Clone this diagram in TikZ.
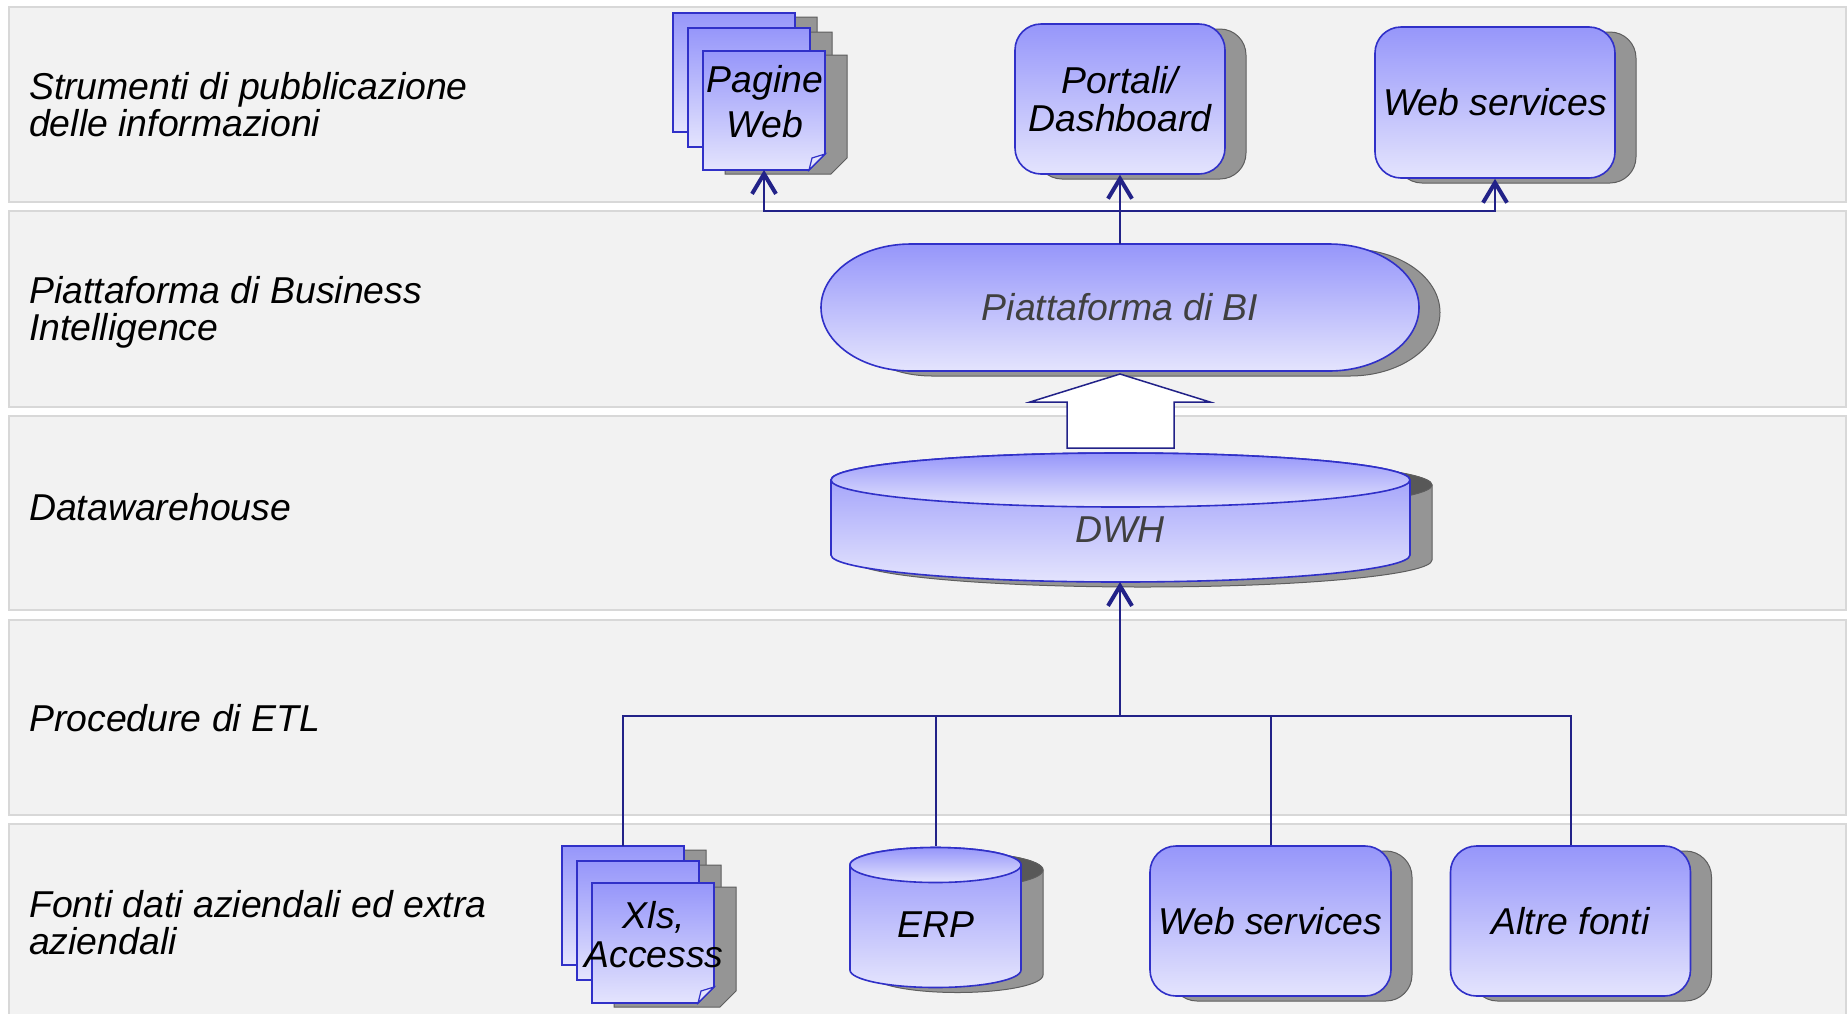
\documentclass[tikz,border=0pt]{standalone}
\usepackage{fontspec}
\setmainfont{Liberation Sans}
\usetikzlibrary{arrows.meta,shadows,calc}

\definecolor{bandfill}{HTML}{F2F2F2}
\definecolor{bandedge}{HTML}{D8D8D8}
\definecolor{boxtop}{RGB}{150,150,250}
\definecolor{boxbot}{RGB}{228,228,253}
\definecolor{boxedge}{RGB}{48,48,200}
\definecolor{wirecol}{RGB}{34,34,136}
\definecolor{shadowfill}{HTML}{959595}
\definecolor{shadowedge}{HTML}{5E5E5E}
\definecolor{shadowdark}{HTML}{585858}
\definecolor{darktext}{HTML}{404040}

\tikzset{
  band/.style={fill=bandfill, draw=bandedge, line width=2pt},
  lab/.style={anchor=west, align=left, inner sep=0pt, font=\fontsize{37.4}{37}\selectfont\itshape},
  txt/.style={align=center, inner sep=0pt, font=\fontsize{37.4}{38}\selectfont\itshape},
  blueshade/.style={top color=boxtop, bottom color=boxbot, draw=boxedge, line width=1.6pt},
  rbox/.style={blueshade, txt, rounded corners=26pt,
    general shadow={shadow xshift=21pt, shadow yshift=-5pt, fill=shadowfill, draw=shadowedge, line width=1pt}},
  shadowshape/.style={fill=shadowfill, draw=shadowedge, line width=1pt},
  wire/.style={draw=wirecol, line width=2pt},
  tip/.style={-{Straight Barb[length=20pt,width=24pt,line width=4pt]}},
  blockarrow/.style={fill=white, draw=wirecol, line width=1.5pt},
  frame/.style={inner sep=0pt, outer sep=0pt},
}

\newcommand\docsheet[4]{%
  \path[shadowshape] (#1+22,#2+4) -- (#3+22,#2+4) -- (#3+22,#4+4-16) -- (#3+22-16,#4+4) -- (#1+22,#4+4) -- cycle;
  \path[blueshade] (#1,#2) -- (#3,#2) -- (#3,#4-16) -- (#3-16,#4) -- (#1,#4) -- cycle;
  \path[fill=boxbot, draw=boxedge, line width=1.2pt] (#3,#4-16) -- (#3-13,#4-12) -- (#3-16,#4) -- cycle;
}

\begin{document}
\begin{tikzpicture}[x=1pt,y=-1pt]
\useasboundingbox (0,0) rectangle (1848,1013);
\fill[white] (0,0) rectangle (1848,1013);

% bands
\path[band] (9,7) rectangle (1846,202);
\path[band] (9,211) rectangle (1846,407);
\path[band] (9,416) rectangle (1846,610);
\path[band] (9,620) rectangle (1846,815);
\path[band] (9,824) rectangle (1846,1030);

% band labels
\node[lab] (lab1) at (29,105) {Strumenti di pubblicazione\\delle informazioni};
\node[lab] (lab2) at (29,312) {Piattaforma di Business\\Intelligence};
\node[lab] (lab3) at (29,507) {Datawarehouse};
\node[lab] (lab4) at (29,718) {Procedure di ETL};
\node[lab] (lab5) at (29,923) {Fonti dati aziendali ed extra\\aziendali};

% ---- top layer: Pagine Web stack
\docsheet{673}{13}{795}{132}
\docsheet{688}{28}{810}{147}
\docsheet{703}{51}{825}{170}
\node[frame, minimum width=122pt, minimum height=119pt] (pagback) at (734,72.5) {};
\node[frame, minimum width=122pt, minimum height=119pt] (pagfront) at (764,110.5) {};
\node[txt, font=\fontsize{37.4}{45}\selectfont\itshape] (pagtext) at (765,101.5) {Pagine\\Web};

\node[rbox, minimum width=210pt, minimum height=150pt] (portali) at (1120,99) {Portali/\\Dashboard};
\node[rbox, minimum width=240pt, minimum height=151pt] (ws1) at (1495,102.5) {Web services};

% ---- BI platform (stadium)
\path[shadowshape, shift={(21,5)}] (911,244) -- (1329,244)
  arc[start angle=-90, end angle=90, x radius=90, y radius=63.5] -- (911,371)
  arc[start angle=90, end angle=270, x radius=90, y radius=63.5] -- cycle;
\path[blueshade] (911,244) -- (1329,244)
  arc[start angle=-90, end angle=90, x radius=90, y radius=63.5] -- (911,371)
  arc[start angle=90, end angle=270, x radius=90, y radius=63.5] -- cycle;
\node[txt, frame, minimum width=598pt, minimum height=127pt, text=darktext] (bi) at (1120,307.5) {Piattaforma di BI};

% ---- DWH cylinder
\begin{scope}[shift={(22,5)}]
  \path[shadowshape] (831,480) -- (831,555) arc[start angle=180, end angle=0, x radius=289.5, y radius=27]
    -- (1410,480) arc[start angle=0, end angle=-180, x radius=289.5, y radius=27] -- cycle;
  \path[fill=shadowdark, draw=shadowedge, line width=1pt] (1120.5,480) ellipse[x radius=289.5, y radius=27];
\end{scope}
\path[blueshade] (831,480) -- (831,555) arc[start angle=180, end angle=0, x radius=289.5, y radius=27]
  -- (1410,480) arc[start angle=0, end angle=-180, x radius=289.5, y radius=27] -- cycle;
\path[blueshade] (1120.5,480) ellipse[x radius=289.5, y radius=27];
\node[txt, frame, minimum width=579pt, minimum height=130pt, text height=50pt, text depth=0pt, text=darktext] (dwh) at (1120,517) {DWH};

% block arrow DWH -> BI
\draw[blockarrow] ($(bi.south)+(0,3)$) -- ++(90,28) -- ++(-36,0) -- ++(0,46) -- ++(-107,0) -- ++(0,-46) -- ++(-37,0) -- cycle;

% ---- sources: Xls stack
\docsheet{562}{846}{684}{965}
\docsheet{577}{861}{699}{980}
\docsheet{592}{883}{714}{1003}
\node[frame, minimum width=122pt, minimum height=119pt] (xlsback) at (623,905.5) {};
\node[txt, font=\fontsize{37.4}{39}\selectfont\itshape] (xlstext) at (654,934.4) {Xls,\\Accesss};

% ERP cylinder
\begin{scope}[shift={(22,5)}]
  \path[shadowshape] (850,865) -- (850,970) arc[start angle=180, end angle=0, x radius=85.5, y radius=17.5]
    -- (1021,865) arc[start angle=0, end angle=-180, x radius=85.5, y radius=17.5] -- cycle;
  \path[fill=shadowdark, draw=shadowedge, line width=1pt] (935.5,865) ellipse[x radius=85.5, y radius=17.5];
\end{scope}
\path[blueshade] (850,865) -- (850,970) arc[start angle=180, end angle=0, x radius=85.5, y radius=17.5]
  -- (1021,865) arc[start angle=0, end angle=-180, x radius=85.5, y radius=17.5] -- cycle;
\path[blueshade] (935.5,865) ellipse[x radius=85.5, y radius=17.5];
\node[txt, frame, minimum width=171pt, minimum height=141pt, text height=41pt, text depth=0pt] (erp) at (935.5,916.5) {ERP};

\node[rbox, minimum width=241pt, minimum height=150pt] (ws2) at (1270.5,921) {Web services};
\node[rbox, minimum width=240pt, minimum height=150pt] (altre) at (1570.5,921) {Altre fonti};

% ---- connectors
\coordinate (topj) at (1120,211);
\draw[wire] (bi.north) -- (topj);
\draw[wire,tip] (topj) -- (portali.south);
\draw[wire,tip] (topj) -| (pagfront.south);
\draw[wire,tip] (topj) -| (ws1.south);

\coordinate (etlj) at (1120,716);
\draw[wire,tip] (etlj) -- (dwh.south);
\draw[wire] (etlj) -| (xlsback.north);
\draw[wire] (etlj) -| (erp.north);
\draw[wire] (etlj) -| (ws2.north);
\draw[wire] (etlj) -| (altre.north);
\end{tikzpicture}
\end{document}
